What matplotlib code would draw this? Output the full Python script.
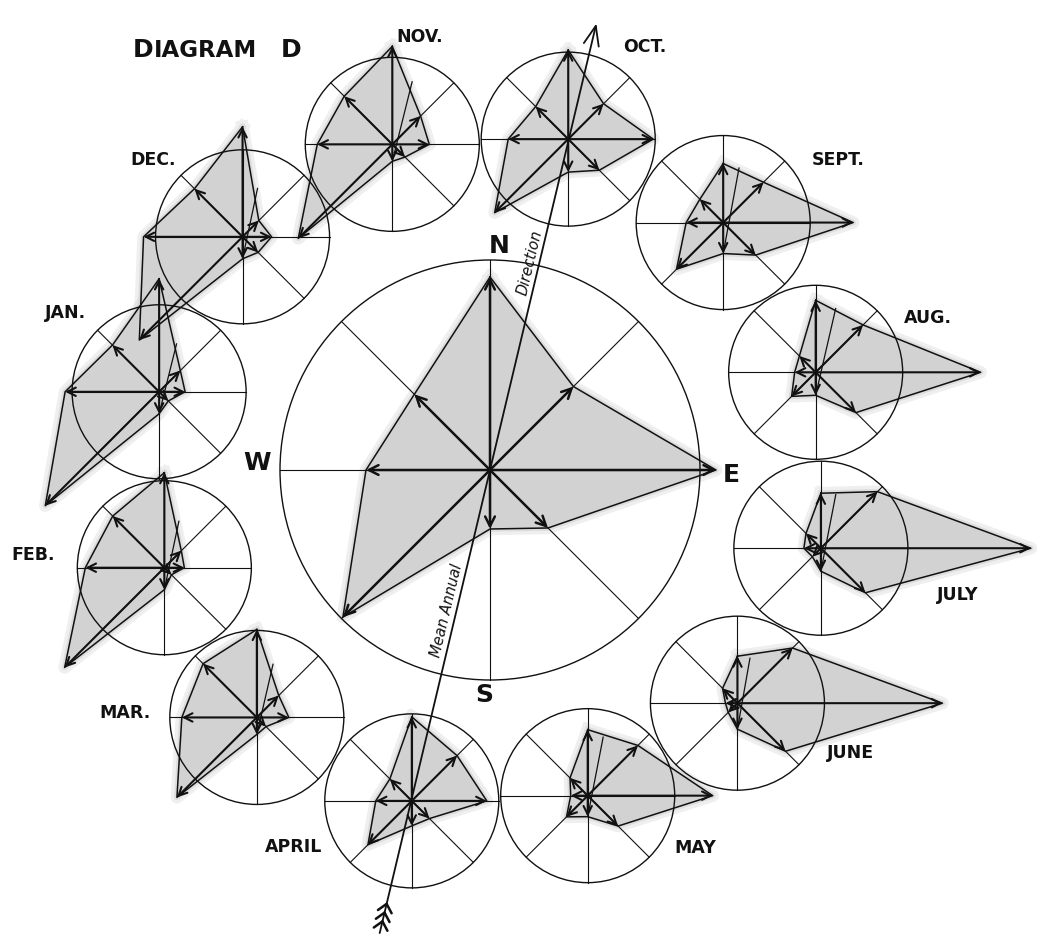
import numpy as np
import matplotlib
matplotlib.use("Agg")
import matplotlib.pyplot as plt
from matplotlib.patches import Circle

# wind-rose vectors, order N, NE, E, SE, S, SW, W, NW (relative lengths)
DIRS = ["N", "NE", "E", "SE", "S", "SW", "W", "NW"]
MONTHS = ["JAN.", "FEB.", "MAR.", "APRIL", "MAY", "JUNE",
          "JULY", "AUG.", "SEPT.", "OCT.", "NOV.", "DEC."]
jan = [113, 30, 26, 13, 22, 161, 94, 66]
feb = [95, 24, 20, 10, 22, 141, 79, 73]
mar = [88, 31, 32, 13, 17, 113, 75, 76]
apr = [84, 64, 75, 25, 25, 62, 36, 31]
may = [66, 71, 125, 43, 21, 30, 17, 25]
jun = [47, 78, 205, 68, 26, 13, 12, 21]
jul = [55, 80, 210, 63, 23, 12, 17, 21]
aug = [72, 67, 165, 57, 23, 34, 21, 23]
sep = [59, 57, 130, 46, 31, 66, 37, 33]
oct_ = [89, 50, 85, 44, 33, 104, 60, 46]
nov = [98, 40, 37, 18, 17, 133, 75, 68]
dec = [110, 23, 29, 22, 22, 146, 99, 68]
annual = [193, 118, 226, 82, 59, 208, 124, 107]
monthly = [jan, feb, mar, apr, may, jun, jul, aug, sep, oct_, nov, dec]

# thin monthly mean-direction strokes (drawn from the S tip), None = the annual line
mean_len = [72, 70, 72, None, 81, 72, 78, 89, 87, None, 82, 72]
mean_brg = [14, 12, 13, None, 11, 10, 11, 13, 10.5, None, 14, 12]

annual_brg = 13.4          # mean annual direction, deg east of north

# ---------------------------------------------------------------- layout
W_PX, H_PX = 1039, 938
CX, CY = 490, 470          # centre of the annual rose
R_MAIN = 210
R_SMALL = 87
RING = 340
# ring position of each month (clockwise steps of 30 deg starting at OCT)
ring_step = {"OCT.": 0, "SEPT.": 1, "AUG.": 2, "JULY": 3, "JUNE": 4, "MAY": 5,
             "APRIL": 6, "MAR.": 7, "FEB.": 8, "JAN.": 9, "DEC.": 10, "NOV.": 11}
label_pos = {"NOV.": (420, 37), "OCT.": (645, 47), "SEPT.": (838, 160),
             "AUG.": (928, 318), "JULY": (958, 595), "JUNE": (850, 753),
             "MAY": (695, 848), "APRIL": (294, 847), "MAR.": (125, 713),
             "FEB.": (33, 555), "JAN.": (65, 313), "DEC.": (153, 160)}
SHADE = "#d2d2d2"
INK = "#111111"


def pt(cx, cy, brg, r):
    a = np.radians(brg)
    return cx + r * np.sin(a), cy - r * np.cos(a)


fig = plt.figure(figsize=(W_PX / 100, H_PX / 100), dpi=100)
ax = fig.add_axes([0, 0, 1, 1])
ax.set_xlim(0, W_PX)
ax.set_ylim(H_PX, 0)
ax.axis("off")


def rose(cx, cy, radius, vals, lw_vec, head):
    brgs = np.arange(8) * 45.0
    tips = [pt(cx, cy, b, v) for b, v in zip(brgs, vals)]
    xs = [t[0] for t in tips] + [tips[0][0]]
    ys = [t[1] for t in tips] + [tips[0][1]]
    # soft shaded area
    ax.plot(xs, ys, color=SHADE, lw=9, alpha=0.35, zorder=0.8,
            solid_joinstyle="round")
    ax.plot(xs, ys, color=SHADE, lw=4, alpha=0.6, zorder=0.9,
            solid_joinstyle="round")
    ax.fill(xs, ys, color=SHADE, lw=0, zorder=1)
    ax.plot(xs, ys, color=INK, lw=1.1, zorder=3)
    # circle and spokes
    ax.add_patch(Circle((cx, cy), radius, fill=False, ec=INK, lw=1.0, zorder=2))
    for b in (0, 45, 90, 135):
        x0, y0 = pt(cx, cy, b, radius)
        x1, y1 = pt(cx, cy, b + 180, radius)
        ax.plot([x0, x1], [y0, y1], color=INK, lw=0.8, zorder=2)
    for t in tips:
        ax.annotate("", xy=t, xytext=(cx, cy), zorder=4,
                    arrowprops=dict(arrowstyle=head, lw=lw_vec, color=INK,
                                    shrinkA=0, shrinkB=0))
    return tips


HEAD_S = "->,head_length=0.6,head_width=0.3"
HEAD_M = "->,head_length=0.7,head_width=0.35"

rose(CX, CY, R_MAIN, annual, 1.8, HEAD_M)

for m, vals, ml, mb in zip(MONTHS, monthly, mean_len, mean_brg):
    cx, cy = pt(CX, CY, annual_brg - 0.1 + 30 * ring_step[m], RING)
    tips = rose(cx, cy, R_SMALL, vals, 1.5, HEAD_S)
    if ml is not None:
        sx, sy = tips[4]
        ex, ey = pt(sx, sy, mb, ml)
        ax.plot([sx, ex], [sy, ey], color=INK, lw=0.9, zorder=3)
    lx, ly = label_pos[m]
    ax.text(lx, ly, m, fontsize=12.5, fontweight="bold", ha="center",
            va="center", color=INK, family="DejaVu Sans")

# mean annual direction arrow through the centre
head = pt(CX, CY, annual_brg, 459)
tail = pt(CX, CY, annual_brg + 180, 476)
ax.annotate("", xy=head, xytext=tail, zorder=5,
            arrowprops=dict(arrowstyle="->,head_length=1.4,head_width=0.55",
                            lw=1.3, color=INK, shrinkA=0, shrinkB=0))
u = np.array([np.sin(np.radians(annual_brg)), -np.cos(np.radians(annual_brg))])
nrm = np.array([-u[1], u[0]])
tail = np.array(tail)
for k in range(3):
    apex = tail + u * (12 + 9 * k)
    for s in (1, -1):
        end = apex - u * 8 + nrm * s * 7
        ax.plot([apex[0], end[0]], [apex[1], end[1]], color=INK, lw=1.8,
                zorder=5, solid_capstyle="round")

rot = np.degrees(np.arctan2(np.cos(np.radians(annual_brg)),
                            np.sin(np.radians(annual_brg))))
for txt, dist in (("Direction", 211), ("Mean Annual", -146)):
    x, y = pt(CX, CY, annual_brg, dist)
    x -= 2
    ax.text(x, y, txt, rotation=rot, rotation_mode="anchor", ha="center",
            va="bottom", fontsize=10.5, style="italic", color=INK,
            family="DejaVu Sans")

# compass letters
for txt, (x, y) in (("N", (499, 246)), ("E", (731, 475)),
                    ("S", (484, 695)), ("W", (257, 463))):
    ax.text(x, y, txt, fontsize=18, fontweight="bold", ha="center",
            va="center", color=INK, family="DejaVu Sans")

# title in small caps
ax.text(133, 57, "D", fontsize=18, fontweight="bold", ha="left",
        va="baseline", color=INK)
ax.text(154, 57, "IAGRAM", fontsize=16.5, fontweight="bold", ha="left",
        va="baseline", color=INK)
ax.text(281, 57, "D", fontsize=18, fontweight="bold", ha="left",
        va="baseline", color=INK)

fig.savefig("out.png", dpi=100, facecolor="white")
